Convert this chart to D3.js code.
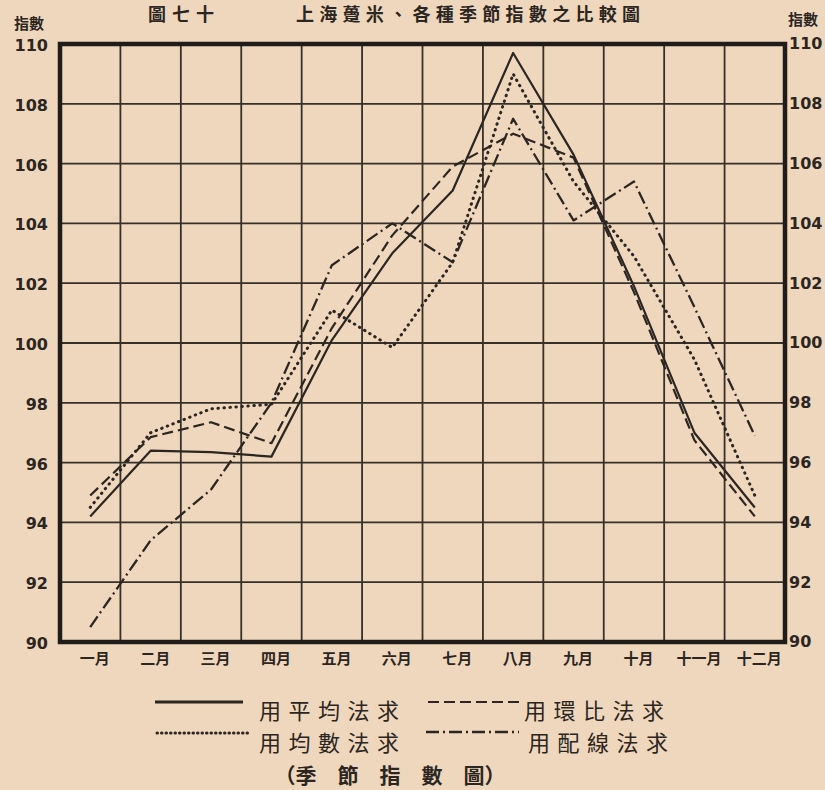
<!DOCTYPE html>
<html>
<head>
<meta charset="utf-8">
<script src="https://cdn.jsdelivr.net/npm/d3@7"></script>
<style>
  body { margin: 0; background: #efd7bd; }
  #chart svg { display: block; }
  .axis text { font-family: "DejaVu Sans", sans-serif; font-weight: bold; fill: #2b2622; }
  .month text { font-family: "Noto Sans CJK TC", sans-serif; font-weight: bold; fill: #2b2622; }
  .cjk { font-family: "Noto Sans CJK TC", sans-serif; fill: #2b2622; }
</style>
</head>
<body>
<div id="chart"></div>
<script>
/* months on the x axis */
var months = ["一月", "二月", "三月", "四月", "五月", "六月", "七月", "八月", "九月", "十月", "十一月", "十二月"];

/* index values, one list per method */
var pingjunValues = [94.2, 96.4, 96.35, 96.2, 100.1, 103.0, 105.1, 109.7, 106.3, 101.9, 97.0, 94.5];
var huanbiValues = [94.9, 96.85, 97.35, 96.65, 100.5, 103.6, 105.9, 107.0, 106.2, 101.7, 96.75, 94.2];
var junshuValues = [94.5, 97.0, 97.8, 97.95, 101.1, 99.85, 102.7, 109.0, 105.4, 102.9, 99.45, 94.9];
var peixianValues = [90.5, 93.4, 95.1, 98.0, 102.6, 104.0, 102.7, 107.5, 104.1, 105.4, 101.2, 96.9];

/* tick labels on both y axes */
var yTicks = [90, 92, 94, 96, 98, 100, 102, 104, 106, 108, 110];

/* legend names */
var seriesNames = ["用平均法求", "用環比法求", "用均數法求", "用配線法求"];

/* canvas size */
var width = 825,
    height = 790;
var plot = { left: 60, right: 785, top: 44, bottom: 642 };

var ink = "#2b2622";

var svg = d3.select("#chart")
    .append("svg")
    .attr("width", width)
    .attr("height", height);

/* paper background */
svg.append("rect")
    .attr("width", width)
    .attr("height", height)
    .attr("fill", "#efd7bd");

/* scales */
var x = d3.scalePoint()
    .domain(months)
    .range([plot.left, plot.right])
    .padding(0.5);

var y = d3.scaleLinear()
    .domain([90, 110])
    .range([plot.bottom, plot.top]);

var step = x.step();

/* title along the top edge */
svg.append("text")
    .attr("class", "cjk")
    .attr("x", 148)
    .attr("y", 21)
    .attr("font-size", 18)
    .attr("font-weight", "bold")
    .attr("textLength", 66)
    .text("圖七十");

svg.append("text")
    .attr("class", "cjk")
    .attr("x", 296)
    .attr("y", 21)
    .attr("font-size", 18)
    .attr("font-weight", "bold")
    .attr("textLength", 344)
    .text("上海躉米、各種季節指數之比較圖");

/* "指數" over each y axis */
svg.append("text")
    .attr("class", "cjk")
    .attr("x", 29)
    .attr("y", 29)
    .attr("text-anchor", "middle")
    .attr("font-size", 15)
    .attr("font-weight", "bold")
    .text("指數");

svg.append("text")
    .attr("class", "cjk")
    .attr("x", 803)
    .attr("y", 25)
    .attr("text-anchor", "middle")
    .attr("font-size", 15)
    .attr("font-weight", "bold")
    .text("指數");

/* horizontal grid */
svg.append("g")
    .selectAll("line")
    .data(yTicks.slice(1, -1))
    .enter().append("line")
    .attr("x1", plot.left)
    .attr("x2", plot.right)
    .attr("y1", function (d) { return y(d); })
    .attr("y2", function (d) { return y(d); })
    .attr("stroke", "#35302a")
    .attr("stroke-width", 1.8);

/* vertical grid between the months */
svg.append("g")
    .selectAll("line")
    .data(months.slice(1))
    .enter().append("line")
    .attr("x1", function (d) { return x(d) - step / 2; })
    .attr("x2", function (d) { return x(d) - step / 2; })
    .attr("y1", plot.top)
    .attr("y2", plot.bottom)
    .attr("stroke", "#35302a")
    .attr("stroke-width", 1.8);

/* y axes, left and right */
var yAxisLeft = d3.axisLeft(y).tickValues(yTicks).tickSize(0).tickPadding(12);
var yAxisRight = d3.axisRight(y).tickValues(yTicks).tickSize(0).tickPadding(4);

var gl = svg.append("g")
    .attr("class", "axis")
    .attr("transform", "translate(" + plot.left + ",0)")
    .call(yAxisLeft);
gl.select(".domain").remove();
gl.selectAll("text").attr("font-size", 16).attr("dy", "0.4em");

var gr = svg.append("g")
    .attr("class", "axis")
    .attr("transform", "translate(" + plot.right + ",0)")
    .call(yAxisRight);
gr.select(".domain").remove();
gr.selectAll("text").attr("font-size", 16).attr("dy", "0.3em");

/* x axis with the month names */
var xAxis = d3.axisBottom(x).tickSize(0).tickPadding(11);
var gx = svg.append("g")
    .attr("class", "month")
    .attr("transform", "translate(4," + plot.bottom + ")")
    .call(xAxis);
gx.select(".domain").remove();
gx.selectAll("text").attr("font-size", 15);

/* the four lines */
var valueline = d3.line()
    .x(function (d, i) { return x(months[i]); })
    .y(function (d) { return y(d); });

var series = [
    { values: pingjunValues, dash: null, width: 2.2, cap: "butt" },
    { values: huanbiValues, dash: "11,5", width: 2.2, cap: "butt" },
    { values: junshuValues, dash: "0.5,5.5", width: 3, cap: "round" },
    { values: peixianValues, dash: "13,4,2,4", width: 2.3, cap: "butt" }
];

svg.append("g")
    .selectAll("path")
    .data(series)
    .enter().append("path")
    .attr("d", function (d) { return valueline(d.values); })
    .attr("fill", "none")
    .attr("stroke", ink)
    .attr("stroke-width", function (d) { return d.width; })
    .attr("stroke-linecap", function (d) { return d.cap; })
    .attr("stroke-linejoin", "round")
    .attr("stroke-dasharray", function (d) { return d.dash; });

/* heavy frame round the plot */
svg.append("rect")
    .attr("x", plot.left)
    .attr("y", plot.top)
    .attr("width", plot.right - plot.left)
    .attr("height", plot.bottom - plot.top)
    .attr("fill", "none")
    .attr("stroke", "#1f1c19")
    .attr("stroke-width", 4.5);

/* legend, two rows of two */
var legendPos = [
    { x1: 155, x2: 243, y: 702, tx: 259, ty: 719 },
    { x1: 428, x2: 519, y: 702, tx: 524, ty: 719 },
    { x1: 157, x2: 250, y: 733, tx: 259, ty: 751 },
    { x1: 426, x2: 519, y: 732, tx: 528, ty: 751 }
];

var legend = svg.append("g")
    .selectAll("g")
    .data(series)
    .enter().append("g");

legend.append("line")
    .attr("x1", function (d, i) { return legendPos[i].x1; })
    .attr("x2", function (d, i) { return legendPos[i].x2; })
    .attr("y1", function (d, i) { return legendPos[i].y; })
    .attr("y2", function (d, i) { return legendPos[i].y; })
    .attr("stroke", ink)
    .attr("stroke-width", function (d, i) { return i == 0 ? 3 : d.width; })
    .attr("stroke-linecap", function (d) { return d.cap; })
    .attr("stroke-dasharray", function (d, i) { return i == 2 ? "0.5,4" : d.dash; });

legend.append("text")
    .attr("class", "cjk")
    .attr("x", function (d, i) { return legendPos[i].tx; })
    .attr("y", function (d, i) { return legendPos[i].ty; })
    .attr("font-size", 22)
    .attr("textLength", 140)
    .text(function (d, i) { return seriesNames[i]; });

/* caption */
svg.append("text")
    .attr("class", "cjk")
    .attr("x", 390)
    .attr("y", 783)
    .attr("text-anchor", "middle")
    .attr("font-size", 21)
    .attr("font-weight", "bold")
    .text("（季　節　指　數　圖）");
</script>
</body>
</html>
